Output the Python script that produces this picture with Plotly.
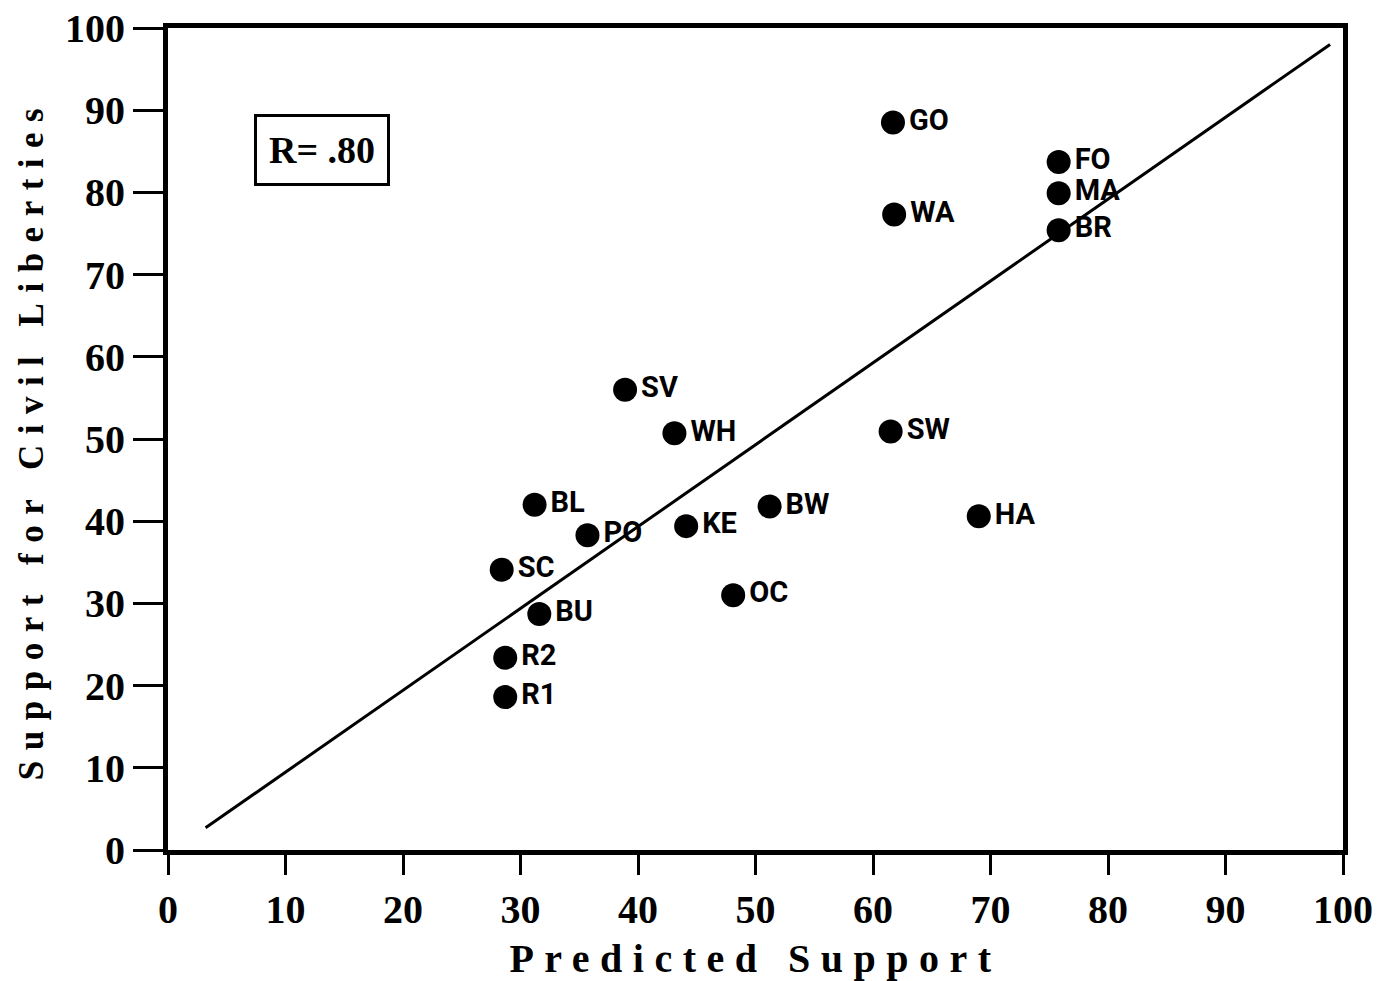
import plotly.graph_objects as go

# Data
codes = ["GO", "WA", "FO", "MA", "BR", "SV", "WH", "SW", "BL", "BW",
         "HA", "PO", "KE", "SC", "OC", "BU", "R2", "R1"]
predicted = [61.7, 61.8, 75.8, 75.8, 75.8, 38.9, 43.1, 61.5, 31.2, 51.2,
             69.0, 35.7, 44.1, 28.4, 48.1, 31.6, 28.7, 28.7]
support = [88.5, 77.3, 83.7, 79.9, 75.4, 56.0, 50.7, 50.9, 42.0, 41.8,
           40.6, 38.3, 39.4, 34.1, 31.0, 28.7, 23.4, 18.6]

fit_x = [3.2, 98.9]
fit_y = [2.7, 98.0]

ticks = [0, 10, 20, 30, 40, 50, 60, 70, 80, 90, 100]
r_text = "R= .80"

serif = "Liberation Serif, Times New Roman, serif"
label_font = "Roboto, Liberation Sans, Arial, sans-serif"

fig = go.Figure()

fig.add_trace(go.Scatter(
    x=fit_x, y=fit_y, mode="lines",
    line=dict(color="black", width=3),
    hoverinfo="skip", showlegend=False,
))

fig.add_trace(go.Scatter(
    x=predicted, y=support, mode="markers+text",
    text=codes, textposition="middle right",
    textfont=dict(family=label_font, size=29, color="black", weight="bold"),
    marker=dict(size=24, color="black"),
    showlegend=False, cliponaxis=False,
))

fig.add_annotation(
    x=13.1, y=85.2, xref="x", yref="y", text=r_text, showarrow=False,
    font=dict(family=serif, size=38, color="black", weight="bold"),
    bordercolor="black", borderwidth=3, borderpad=12, bgcolor="white",
)

axis_common = dict(
    range=[0, 100], tickvals=ticks, ticks="outside", tickwidth=3,
    tickcolor="black", showgrid=False, zeroline=False,
    showline=True, linecolor="black", linewidth=5, mirror=True,
    ticklabeloverflow="allow", automargin=False,
    tickfont=dict(family=serif, size=40, color="black", weight="bold"),
)

fig.update_xaxes(
    **axis_common, ticklen=20,
    title=dict(text="Predicted Support", standoff=16,
               font=dict(family=serif, size=40, color="black", weight="bold")),
)
fig.update_yaxes(
    **axis_common, ticklen=30,
    title=dict(text="Support for Civil Liberties", standoff=12,
               font=dict(family=serif, size=35, color="black", weight="bold")),
)

fig.update_layout(
    width=1397, height=981,
    margin=dict(l=168, r=54, t=28, b=131),
    paper_bgcolor="white", plot_bgcolor="white",
)

post = """
document.querySelectorAll('.xtitle, .ytitle').forEach(function(t){
  t.style.letterSpacing = '10.5px';
});
"""

fig.write_html("out.html", post_script=post)
